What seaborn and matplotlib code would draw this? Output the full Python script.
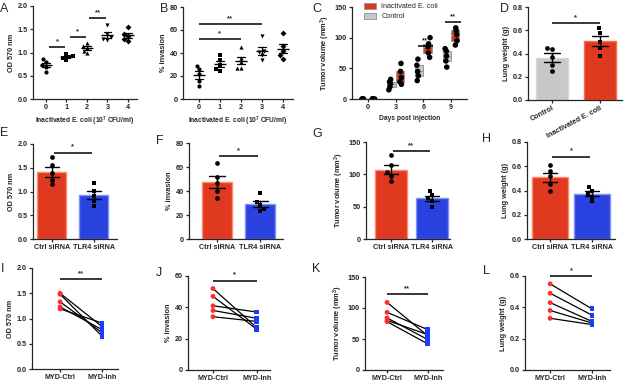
import matplotlib
matplotlib.use('Agg')
import matplotlib.pyplot as plt
import seaborn as sns
import numpy as np
import pandas as pd

np.random.seed(3)

# ---- A / B: dose response ----
doses = ['0', '1', '2', '3', '4']
dose_markers = ['o', 's', '^', 'v', 'D']
od_dose = [[0.57, 0.68, 0.73, 0.80, 0.87],
           [0.83, 0.88, 0.90, 0.93, 0.97],
           [0.98, 1.04, 1.10, 1.15, 1.20],
           [1.27, 1.30, 1.33, 1.40, 1.60],
           [1.25, 1.30, 1.35, 1.40, 1.55]]
inv_dose = [[11, 16, 22, 26, 29],
            [24, 26, 30, 34, 38],
            [27, 27, 32, 36, 45],
            [34, 38, 41, 42, 55],
            [35, 38, 42, 46, 57]]

# ---- C: tumor growth ----
days = ['0', '3', '6', '9']
tumor_ctrl = [[0, 0, 0, 0, 0], [15, 20, 25, 28, 32], [30, 38, 45, 55, 65], [52, 62, 70, 78, 82]]
tumor_ecoli = [[0, 0, 0, 0, 0], [24, 28, 35, 45, 58], [68, 75, 85, 90, 100], [88, 95, 105, 112, 116]]
c_groups = ['Control', 'Inactivated E. coli']

# ---- D: lung weight ----
lung_ctrl = [0.25, 0.30, 0.37, 0.44, 0.45]
lung_ecoli = [0.38, 0.45, 0.50, 0.58, 0.62]

# ---- E-H: siRNA ----
sirna = ['Ctrl siRNA', 'TLR4 siRNA']
od_si = [[1.15, 1.25, 1.40, 1.55, 1.72], [0.70, 0.80, 0.90, 1.02, 1.18]]
inv_si = [[34, 40, 47, 52, 63], [23, 25, 28, 31, 38]]
tum_si = [[90, 98, 103, 115, 130], [50, 58, 63, 68, 75]]
lung_si = [[0.40, 0.45, 0.52, 0.56, 0.61], [0.31, 0.35, 0.37, 0.40, 0.43]]

# ---- I-L: MYD paired ----
myd = ['MYD-Ctrl', 'MYD-Inh']
od_myd = [[1.50, 1.48, 1.33, 1.23, 1.19], [0.84, 0.65, 0.72, 0.78, 0.91]]
inv_myd = [[52, 47, 41, 38, 34], [27, 26, 37, 33, 31]]
tum_myd = [[109, 93, 84, 80, 78], [55, 65, 49, 57, 42]]
lung_myd = [[0.55, 0.49, 0.43, 0.38, 0.33], [0.39, 0.35, 0.31, 0.30, 0.29]]

RED = '#ff2200'
BLUE = '#0a2cff'
GRAY = '#c8c8c8'

sns.set_style('ticks')
plt.rcParams['font.family'] = ['Liberation Sans', 'DejaVu Sans']
plt.rcParams['font.weight'] = 'bold'
plt.rcParams['axes.labelweight'] = 'bold'
plt.rcParams['mathtext.fontset'] = 'custom'
plt.rcParams['mathtext.rm'] = 'Liberation Sans:bold'
plt.rcParams['mathtext.default'] = 'rm'
plt.rcParams['axes.linewidth'] = 0.9
plt.rcParams['xtick.major.width'] = 0.9
plt.rcParams['ytick.major.width'] = 0.9
plt.rcParams['xtick.major.size'] = 2.3
plt.rcParams['ytick.major.size'] = 2.3
plt.rcParams['xtick.labelsize'] = 5.2
plt.rcParams['ytick.labelsize'] = 5.2
plt.rcParams['axes.labelsize'] = 5.3
plt.rcParams['xtick.major.pad'] = 1.2
plt.rcParams['ytick.major.pad'] = 1.5

W, H = 625, 384
fig = plt.figure(figsize=(W / 100, H / 100), dpi=100)


def add_ax(x0, x1, y0, y1):
    return fig.add_axes([x0 / W, 1 - y1 / H, (x1 - x0) / W, (y1 - y0) / H])


def style(ax, ylim, yticks, xlim, ylabel, xlabel=''):
    ax.set_ylim(*ylim)
    ax.set_yticks(yticks)
    ax.set_xlim(*xlim)
    ax.set_ylabel(ylabel, labelpad=2)
    ax.set_xlabel(xlabel, labelpad=3, fontsize=4.8)
    sns.despine(ax=ax)


def sig(ax, x0, x1, y, txt, dy):
    ax.plot([x0, x1], [y, y], color='black', lw=1.1, solid_capstyle='butt', clip_on=False)
    ax.text((x0 + x1) / 2, y + dy, txt, ha='center', va='bottom', fontsize=5.5)


def dose_panel(ax, values, ylabel, ylim, yticks, xlim, sigs, dy):
    df = pd.DataFrame({'dose': np.repeat(doses, 5), 'val': np.concatenate(values)})
    for d, m in zip(doses, dose_markers):
        sns.swarmplot(data=df[df['dose'] == d], x='dose', y='val', order=doses,
                      marker=m, color='black', size=3.0, ax=ax)
    sns.pointplot(data=df, x='dose', y='val', order=doses, errorbar='se', capsize=0.35,
                  markers='_', linestyles='none', color='black', markersize=9,
                  markeredgewidth=1.0, err_kws={'linewidth': 0.9}, ax=ax)
    for x0, x1, y, t in sigs:
        sig(ax, x0, x1, y, t, dy)
    style(ax, ylim, yticks, xlim, ylabel, 'Inactivated E. coli (10$^7$ CFU/ml)')


def bar_panel(ax, groups, vals, colors, edges, markers, ylabel, ylim, yticks, xlim, width, s, dy):
    df = pd.DataFrame({'grp': np.repeat(groups, len(vals[0])), 'val': np.concatenate(vals)})
    sns.barplot(data=df, x='grp', y='val', order=groups, hue='grp', hue_order=groups,
                palette=colors, errorbar='se', capsize=0.35, width=width, legend=False,
                err_kws={'color': 'black', 'linewidth': 1.0}, linewidth=1.0, ax=ax)
    for p, e in zip(ax.patches, edges):
        p.set_edgecolor(e)
    for g, m in zip(groups, markers):
        sns.swarmplot(data=df[df['grp'] == g], x='grp', y='val', order=groups,
                      marker=m, color='black', size=3.4, ax=ax)
    sig(ax, s[0], s[1], s[2], s[3], dy)
    style(ax, ylim, yticks, xlim, ylabel)


def paired_panel(ax, vals, ylabel, ylim, yticks, xlim, s, dy):
    n = len(vals[0])
    df = pd.DataFrame({'pos': [0] * n + [1] * n, 'val': vals[0] + vals[1],
                       'pair': list(range(n)) * 2, 'grp': [myd[0]] * n + [myd[1]] * n})
    sns.lineplot(data=df, x='pos', y='val', units='pair', estimator=None,
                 color='black', lw=0.9, ax=ax)
    sns.scatterplot(data=df, x='pos', y='val', hue='grp', style='grp',
                    palette=['#ff2a2a', '#1a3cff'], markers=['o', 's'], s=12,
                    linewidth=0, legend=False, ax=ax, zorder=3)
    ax.set_xticks([0, 1], myd)
    sig(ax, s[0], s[1], s[2], s[3], dy)
    style(ax, ylim, yticks, xlim, ylabel)


# A
ax = add_ax(33, 137, 6, 99)
dose_panel(ax, od_dose, 'OD 570 nm', (0, 2.0), [0, 0.5, 1.0, 1.5, 2.0], (-0.63, 4.44),
           [(0.15, 0.95, 1.12, '*'), (1.15, 1.95, 1.33, '*'), (2.1, 2.95, 1.75, '**')], 0.04)
ax.set_yticklabels(['0.0', '0.5', '1.0', '1.5', '2.0'])

# B
ax = add_ax(183, 293, 7, 99)
dose_panel(ax, inv_dose, '% invasion', (0, 80), [0, 20, 40, 60, 80], (-0.76, 4.48),
           [(0, 2, 52, '*'), (0, 3, 65, '**')], 2)

# C
ax = add_ax(352, 467, 7, 99)
rows = []
for i, d in enumerate(days):
    for v in tumor_ctrl[i]:
        rows.append((d, c_groups[0], v))
    for v in tumor_ecoli[i]:
        rows.append((d, c_groups[1], v))
tdf = pd.DataFrame(rows, columns=['day', 'group', 'vol'])
sns.boxplot(data=tdf, x='day', y='vol', hue='group', hue_order=c_groups, order=days,
            palette=[GRAY, RED], whis=0, showfliers=False, showcaps=False, width=0.6,
            linecolor='#9a9a9a', linewidth=0.7, ax=ax)
sns.stripplot(data=tdf, x='day', y='vol', hue='group', hue_order=c_groups, order=days,
              dodge=True, jitter=0.1, palette=['black', 'black'], size=4.0,
              legend=False, ax=ax)
h, l = ax.get_legend_handles_labels()
ax.legend(h[::-1], l[::-1], loc='upper left', bbox_to_anchor=(0.08, 1.08), frameon=False,
          prop={'size': 5.2, 'weight': 'normal'}, handlelength=1.6, handleheight=0.9,
          labelspacing=0.35, borderaxespad=0)
sig(ax, 1.8, 2.35, 86, '**', 3)
sig(ax, 2.8, 3.35, 126, '**', 3)
style(ax, (0, 150), [0, 50, 100, 150], (-0.58, 3.58), 'Tumor volume (mm$^3$)',
      'Days post injection')

# D
ax = add_ax(528, 622, 7, 100)
bar_panel(ax, c_groups, [lung_ctrl, lung_ecoli], [GRAY, RED], ['#d8d8d8', '#ff6a50'],
          ['o', 's'], 'Lung weight (g)', (0, 0.8), [0, 0.2, 0.4, 0.6, 0.8], (-0.5, 1.46),
          0.67, (0, 1, 0.66, '*'), 0.015)
ax.set_xticks([0, 1], c_groups, rotation=28, ha='right', va='top', rotation_mode='anchor')

# E
ax = add_ax(33, 117, 144, 239)
bar_panel(ax, sirna, od_si, [RED, BLUE], ['#ff8a70', '#8090ff'], ['o', 's'],
          'OD 570 nm', (0, 2.0), [0, 0.5, 1.0, 1.5, 2.0], (-0.45, 1.55), 0.69,
          (0.05, 0.95, 1.82, '*'), 0.04)
ax.set_yticklabels(['0.0', '0.5', '1.0', '1.5', '2.0'])

# F
ax = add_ax(189, 283, 143, 239)
bar_panel(ax, sirna, inv_si, [RED, BLUE], ['#ff8a70', '#8090ff'], ['o', 's'],
          '% invasion', (0, 80), [0, 20, 40, 60, 80], (-0.65, 1.53), 0.7,
          (0.05, 0.95, 69, '*'), 2)

# G
ax = add_ax(366, 450, 142, 239)
bar_panel(ax, sirna, tum_si, [RED, BLUE], ['#ff8a70', '#8090ff'], ['o', 's'],
          'Tumor volume (mm$^3$)', (0, 150), [0, 50, 100, 150], (-0.6, 1.44), 0.78,
          (0.05, 0.95, 136, '**'), 3)

# H
ax = add_ax(527, 615, 142, 239)
bar_panel(ax, sirna, lung_si, [RED, BLUE], ['#ff8a70', '#8090ff'], ['o', 's'],
          'Lung weight (g)', (0, 0.8), [0, 0.2, 0.4, 0.6, 0.8], (-0.55, 1.55), 0.86,
          (0.05, 0.95, 0.68, '*'), 0.015)

# I
ax = add_ax(32, 118, 268, 369)
paired_panel(ax, od_myd, 'OD 570 nm', (0, 2.0), [0, 0.5, 1.0, 1.5, 2.0], (-0.67, 1.38),
             (0, 1, 1.78, '**'), 0.04)
ax.set_yticklabels(['0.0', '0.5', '1.0', '1.5', '2.0'])

# J
ax = add_ax(188, 270, 276, 370)
paired_panel(ax, inv_myd, '% invasion', (0, 60), [0, 20, 40, 60], (-0.57, 1.3),
             (0, 1, 57, '*'), 1.5)

# K
ax = add_ax(365, 443, 277, 370)
paired_panel(ax, tum_myd, 'Tumor volume (mm$^3$)', (0, 150), [0, 50, 100, 150], (-0.54, 1.37),
             (0, 1, 122, '**'), 3)

# L
ax = add_ax(525, 610, 276, 370)
paired_panel(ax, lung_myd, 'Lung weight (g)', (0, 0.6), [0, 0.2, 0.4, 0.6], (-0.6, 1.43),
             (0, 1, 0.6, '*'), 0.012)

letters = [('A', 0, 3), ('B', 160, 3), ('C', 312, 3), ('D', 500, 3),
           ('E', 0, 127), ('F', 156, 135), ('G', 312, 128), ('H', 482, 133),
           ('I', 1, 263), ('J', 156, 267), ('K', 312, 263), ('L', 483, 265)]
for t, x, y in letters:
    fig.text(x / W, 1 - y / H, t, fontsize=9, fontweight='normal', va='top', ha='left')

fig.savefig('out.png', dpi=100)
